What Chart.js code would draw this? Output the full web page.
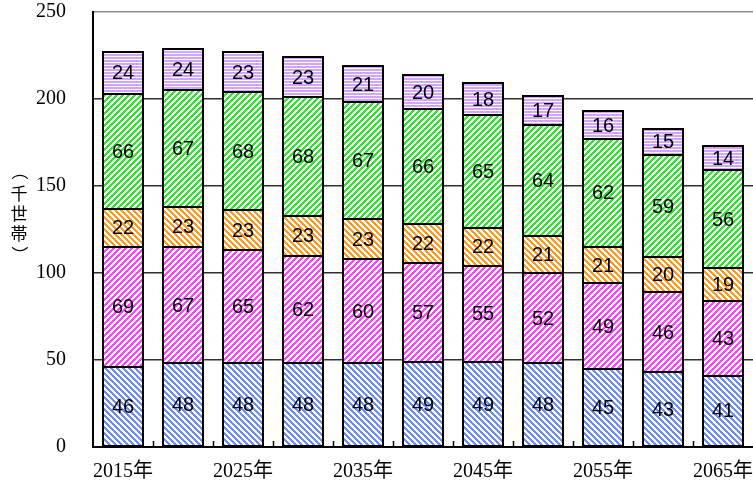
<!DOCTYPE html>
<html><head><meta charset="utf-8">
<script src="https://cdn.jsdelivr.net/npm/chart.js@4.4.1/dist/chart.umd.min.js"></script>
<style>html,body{margin:0;padding:0;background:#fff}#wrap{width:753px;height:490px}</style>
</head><body><div id="wrap"><canvas id="c" width="753" height="490"></canvas></div>
<script>
const categories = ['2015','2020','2025','2030','2035','2040','2045','2050','2055','2060','2065'];
const tickLabels = ['2015年','','2025年','','2035年','','2045年','','2055年','','2065年'];
const yTicks = [0,50,100,150,200,250];
const yTitleChars = ['（','千','世','帯','）'];
const seriesBlue    = [46,48,48,48,48,49,49,48,45,43,41];
const seriesMagenta = [69,67,65,62,60,57,55,52,49,46,43];
const seriesOrange  = [22,23,23,23,23,22,22,21,21,20,19];
const seriesGreen   = [66,67,68,68,67,66,65,64,62,59,56];
const seriesLavender= [24,24,23,23,21,20,18,17,16,15,14];

function hatch(color, kind) {
  const n = kind === 'h' ? 3 : 6;
  const t = document.createElement('canvas');
  t.width = n; t.height = n;
  const g = t.getContext('2d');
  g.fillStyle = '#ffffff'; g.fillRect(0,0,n,n);
  g.fillStyle = color;
  for (let y = 0; y < n; y++) for (let x = 0; x < n; x++) {
    let on;
    if (kind === 'h') on = (y % 3) < 2;
    else if (kind === '/') on = ((x + y) % 6) < 3;
    else on = (((x - y) % 6) + 6) % 6 < 3;
    if (on) g.fillRect(x, y, 1, 1);
  }
  return document.getElementById('c').getContext('2d').createPattern(t, 'repeat');
}

function drawCentered(ctx, ch, cx, cy, rot) {
  ctx.save();
  ctx.textAlign = 'left'; ctx.textBaseline = 'alphabetic';
  const m = ctx.measureText(ch);
  const mx = (m.actualBoundingBoxRight - m.actualBoundingBoxLeft) / 2;
  const my = (m.actualBoundingBoxDescent - m.actualBoundingBoxAscent) / 2;
  ctx.translate(cx, cy);
  if (rot) ctx.rotate(Math.PI / 2);
  ctx.fillText(ch, -mx, -my);
  ctx.restore();
}

const overlayPlugin = {
  id: 'overlay',
  afterDatasetsDraw(chart) {
    const ctx = chart.ctx;
    ctx.save();
    // bar outlines (2px, shared between stacked segments)
    ctx.strokeStyle = '#000'; ctx.lineWidth = 2;
    chart.data.datasets.forEach((ds, di) => {
      chart.getDatasetMeta(di).data.forEach(el => {
        const p = el.getProps(['x','y','base','width'], true);
        const l = Math.round(p.x - p.width / 2), r = Math.round(p.x + p.width / 2);
        const t = Math.round(Math.min(p.y, p.base)), b = Math.round(Math.max(p.y, p.base));
        ctx.strokeRect(l, t, r - l, b - t);
      });
    });
    // value labels
    ctx.fillStyle = '#000';
    ctx.font = '20px "Liberation Sans", Arial, sans-serif';
    ctx.textAlign = 'center';
    ctx.textBaseline = 'middle';
    chart.data.datasets.forEach((ds, di) => {
      chart.getDatasetMeta(di).data.forEach((el, i) => {
        const p = el.getProps(['x','y','base'], true);
        ctx.fillText(String(ds.data[i]), p.x, (p.y + p.base) / 2 + 1);
      });
    });
    // inner tick marks on the category axis
    const xs = chart.scales.x, b = chart.chartArea.bottom;
    ctx.lineWidth = 1.5;
    for (let i = 1; i < categories.length; i++) {
      const x = Math.round((xs.getPixelForTick(i-1) + xs.getPixelForTick(i)) / 2) + 0.5;
      ctx.beginPath(); ctx.moveTo(x, b); ctx.lineTo(x, b - 6); ctx.stroke();
    }
    // vertical axis title, upright characters, rotated brackets
    ctx.font = '17px "Noto Sans CJK JP", sans-serif';
    const ys = [177, 193, 213, 233, 249];
    yTitleChars.forEach((ch, i) => {
      drawCentered(ctx, ch, 19, ys[i], i === 0 || i === yTitleChars.length - 1);
    });
    ctx.restore();
  }
};

const mk = (label, data, color, kind) => ({
  label, data, backgroundColor: hatch(color, kind),
  borderWidth: 0, barPercentage: 0.68, categoryPercentage: 1
});

new Chart(document.getElementById('c'), {
  type: 'bar',
  data: {
    labels: categories,
    datasets: [
      mk('blue', seriesBlue, '#6d8ef5', '\\'),
      mk('magenta', seriesMagenta, '#ff44ff', '/'),
      mk('orange', seriesOrange, '#ff9a1e', '\\'),
      mk('green', seriesGreen, '#2ee62e', '/'),
      mk('lavender', seriesLavender, '#d0a4ff', 'h')
    ]
  },
  options: {
    responsive: false,
    animation: false,
    devicePixelRatio: 1,
    layout: { padding: { top: 12, right: 0, left: 0, bottom: 0 } },
    plugins: { legend: { display: false }, tooltip: { enabled: false } },
    scales: {
      x: {
        stacked: true,
        offset: true,
        grid: { display: false, drawTicks: false },
        border: { display: true, color: '#000', width: 2 },
        ticks: {
          autoSkip: false, maxRotation: 0, padding: 13, color: '#000',
          font: { family: '"Liberation Serif", "Noto Sans CJK JP", serif', size: 20 },
          callback: (v, i) => tickLabels[i]
        },
        afterFit(s) { s.height = 43; s.paddingLeft = 0; s.paddingRight = 0; s.paddingTop = 0; s.paddingBottom = 0; }
      },
      y: {
        stacked: true,
        min: 0, max: 250,
        afterBuildTicks(s) { s.ticks = yTicks.map(v => ({ value: v })); },
        grid: {
          drawTicks: false,
          color: c => c.tick && c.tick.value === 250 ? '#8c8c8c' : '#303030',
          lineWidth: 1.5
        },
        border: { display: true, color: '#000', width: 2 },
        ticks: {
          padding: 27, color: '#000',
          font: { family: '"Liberation Serif", serif', size: 20 }
        },
        afterFit(s) { s.width = 93; s.paddingTop = 0; s.paddingBottom = 0; s.paddingLeft = 0; s.paddingRight = 0; }
      }
    }
  },
  plugins: [overlayPlugin]
});
</script></body></html>
